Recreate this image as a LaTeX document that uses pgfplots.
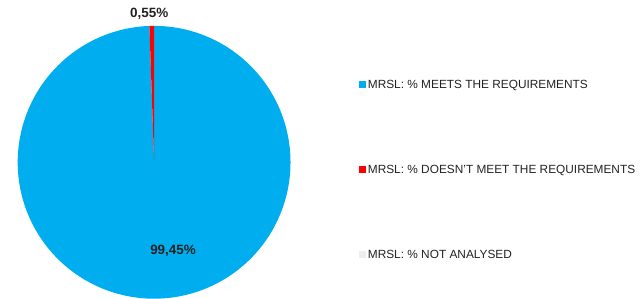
\documentclass[border=0pt]{standalone}
\usepackage{pgfplots}
\usepackage{pgfplotstable}
\usepackage{fontspec}
\setmainfont{Liberation Sans}
\pgfplotsset{compat=1.18}
\definecolor{pieblue}{HTML}{00AEEF}
\definecolor{piered}{HTML}{FF0000}
\definecolor{piegrey}{HTML}{EEEEEE}
\definecolor{txt}{HTML}{222222}
\pgfplotstableread{
label value
meets 99.45
fails 0.55
notanalysed 0
}\piedata
\begin{document}
\pgfplotstablegetelem{0}{value}\of\piedata \let\va\pgfplotsretval
\pgfplotstablegetelem{1}{value}\of\piedata \let\vb\pgfplotsretval
\pgfmathsetmacro{\redend}{90+3.6*\vb}
\begin{tikzpicture}
\begin{axis}[
  at={(15bp,0bp)}, anchor=south west,
  scale only axis, width=274bp, height=274bp,
  xmin=-1, xmax=1, ymin=-1, ymax=1,
  hide axis, clip=false,
  legend style={at={(1.252,0.81)}, anchor=north west, draw=none, fill=none,
    font=\fontsize{11.9bp}{13bp}\selectfont\color{txt}, row sep=71.6bp,
    inner sep=0pt, cells={anchor=west}},
  legend cell align=left,
  legend image code/.code={\fill[#1] (0bp,-3bp) rectangle (6.5bp,3.5bp);},
]
\addplot[fill=pieblue, draw=none, domain=\redend:450, samples=360] ({cos(x)},{sin(x)}) -- (axis cs:0,0) -- cycle;
\addlegendentry{MRSL: \% MEETS THE REQUIREMENTS}
\addplot[fill=piered, draw=none, domain=90:\redend, samples=5] ({cos(x)},{sin(x)}) -- (axis cs:0,0) -- cycle;
\addlegendentry{MRSL: \% DOESN'T MEET THE REQUIREMENTS}
\addlegendimage{fill=piegrey, draw=none}
\addlegendentry{MRSL: \% NOT ANALYSED}
\node[font=\fontsize{13.5bp}{15bp}\selectfont\bfseries, text=txt] at (axis cs:-0.036,1.088) {0,55\%};
\node[font=\fontsize{13.5bp}{15bp}\selectfont\bfseries, text=txt] at (axis cs:0.139,-0.65) {99,45\%};
\end{axis}
\pgfresetboundingbox
\useasboundingbox (0,0) rectangle (640bp,300bp);
\end{tikzpicture}
\end{document}
